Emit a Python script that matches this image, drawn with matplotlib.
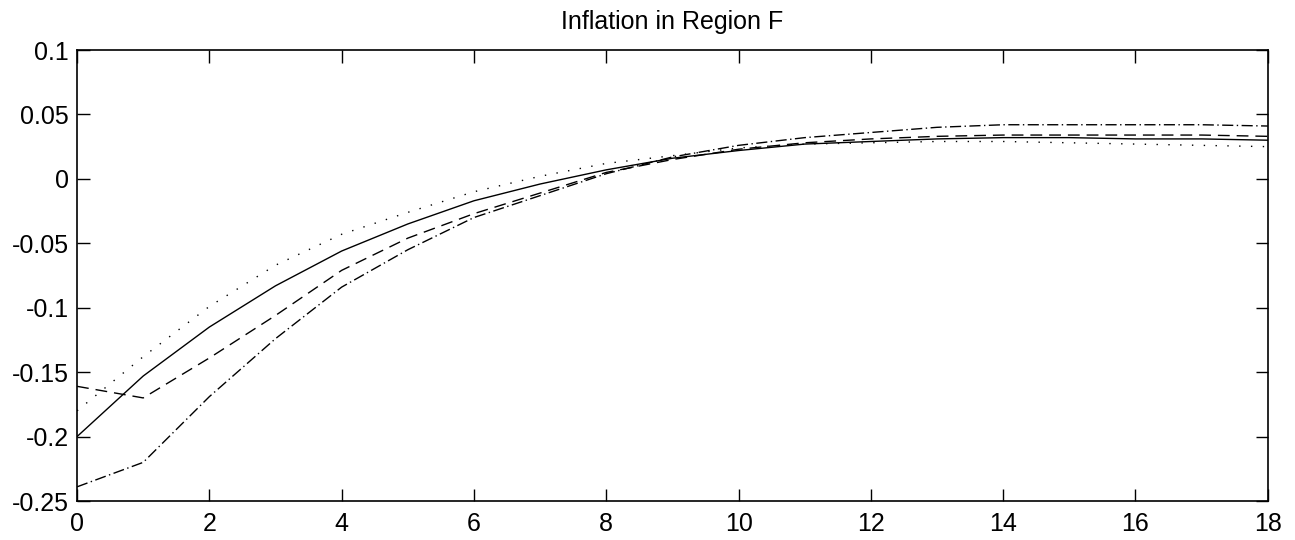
import matplotlib
matplotlib.use('Agg')
import matplotlib.pyplot as plt

plt.rcParams['font.family'] = ['Liberation Sans', 'DejaVu Sans']

# horizon (quarters)
periods = list(range(19))

# responses
solid = [-0.200, -0.153, -0.115, -0.083, -0.056, -0.035, -0.017, -0.004, 0.007, 0.016,
         0.022, 0.027, 0.029, 0.031, 0.032, 0.032, 0.031, 0.031, 0.030]
dashed = [-0.161, -0.170, -0.139, -0.106, -0.071, -0.046, -0.027, -0.011, 0.005, 0.015,
          0.023, 0.028, 0.031, 0.033, 0.034, 0.034, 0.034, 0.034, 0.033]
dashdot = [-0.239, -0.220, -0.169, -0.124, -0.084, -0.055, -0.030, -0.013, 0.004, 0.017,
           0.026, 0.032, 0.036, 0.040, 0.042, 0.042, 0.042, 0.042, 0.041]
dotted = [-0.180, -0.138, -0.099, -0.067, -0.043, -0.026, -0.010, 0.002, 0.012, 0.018,
          0.024, 0.027, 0.028, 0.029, 0.029, 0.028, 0.027, 0.026, 0.025]

xticks = [0, 2, 4, 6, 8, 10, 12, 14, 16, 18]
yticks = [-0.25, -0.2, -0.15, -0.1, -0.05, 0, 0.05, 0.1]
ytick_labels = ['-0.25', '-0.2', '-0.15', '-0.1', '-0.05', '0', '0.05', '0.1']

fig = plt.figure(figsize=(12.95, 5.4), dpi=100)
ax = fig.add_axes([0.0595, 0.0722, 0.9195, 0.8352])

ax.plot(periods, solid, color='black', lw=1.0, linestyle='-')
ax.plot(periods, dashed, color='black', lw=1.0, dashes=(8.5, 5))
ax.plot(periods, dashdot, color='black', lw=1.0, dashes=(8.0, 2.5, 1.0, 2.5))
ax.plot(periods, dotted, color='black', lw=1.0, dashes=(1.0, 7.5))

ax.set_xlim(0, 18)
ax.set_ylim(-0.25, 0.1)
ax.set_xticks(xticks)
ax.set_xticklabels([str(t) for t in xticks])
ax.set_yticks(yticks)
ax.set_yticklabels(ytick_labels)

ax.tick_params(direction='in', length=9, width=1.0, labelsize=18,
               top=True, right=True)
ax.tick_params(axis='x', pad=8)
ax.tick_params(axis='y', pad=6)
for sp in ax.spines.values():
    sp.set_linewidth(1.2)

ax.set_title('Inflation in Region F', fontsize=18, pad=15)

fig.savefig('out.png', dpi=100)
plt.close(fig)
